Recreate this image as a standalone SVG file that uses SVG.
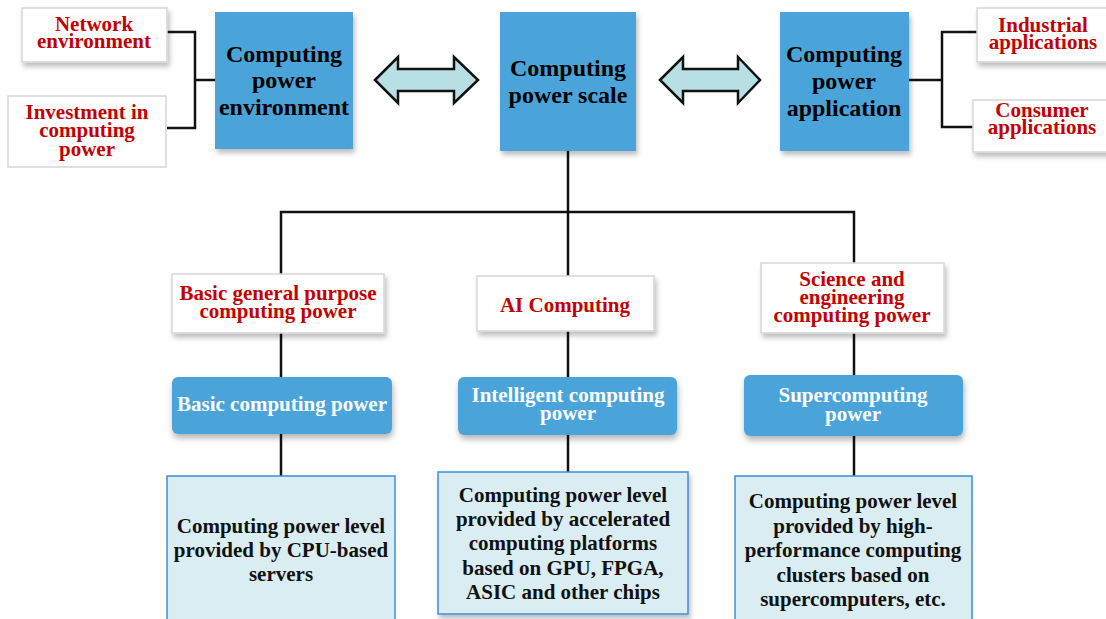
<svg xmlns="http://www.w3.org/2000/svg" width="1106" height="619" viewBox="0 0 1106 619">
<defs>
<filter id="sh" x="-10%" y="-10%" width="125%" height="135%">
<feDropShadow dx="2" dy="4" stdDeviation="2.5" flood-color="#000" flood-opacity="0.25"/>
</filter>
<filter id="shb" x="-10%" y="-10%" width="125%" height="135%">
<feDropShadow dx="1" dy="4" stdDeviation="3" flood-color="#000" flood-opacity="0.3"/>
</filter>
</defs>
<style>
text{font-family:"Liberation Serif","Times New Roman",serif;font-weight:bold;text-anchor:middle}
.red{fill:#c00000;font-size:21px}
.big{fill:#000;font-size:24px}
.wh{fill:#fff;font-size:21px}
.blk{fill:#111;font-size:21px}
.wbox{fill:#fff;stroke:#d6d6d6;stroke-width:1.5}
.bbox{fill:#4ba4d9}
.rbox{fill:#4ba4d9}
.lbox{fill:#daedf3;stroke:#3d8fd6;stroke-width:1.5}
.ln{fill:none;stroke:#111;stroke-width:2.5}
.arr{fill:#b8dfe3;stroke:#111;stroke-width:2.5;stroke-linejoin:miter}
</style>
<rect width="1106" height="619" fill="#fff"/>
<g id="connectors">
<polyline class="ln" points="167,32 195,32 195,128 167,128"/>
<line class="ln" x1="195" y1="80" x2="215" y2="80"/>
<polyline class="ln" points="977,32 942,32 942,127 973,127"/>
<line class="ln" x1="909" y1="80" x2="942" y2="80"/>
<line class="ln" x1="568" y1="151" x2="568" y2="212"/>
<polyline class="ln" points="281,276 281,212 854,212 854,263"/>
<line class="ln" x1="568" y1="212" x2="568" y2="276"/>
<line class="ln" x1="281" y1="333" x2="281" y2="377"/>
<line class="ln" x1="281" y1="434" x2="281" y2="476"/>
<line class="ln" x1="568" y1="331" x2="568" y2="377"/>
<line class="ln" x1="568" y1="435" x2="568" y2="472"/>
<line class="ln" x1="854" y1="333" x2="854" y2="375"/>
<line class="ln" x1="854" y1="436" x2="854" y2="476"/>
<path class="arr" d="M375,80 L398,57 L398,69 L454,69 L454,57 L478,80 L454,103 L454,91 L398,91 L398,103 Z"/>
<path class="arr" d="M660,80 L683,57 L683,69 L738,69 L738,57 L760,80 L738,103 L738,91 L683,91 L683,103 Z"/>
</g>
<g id="network-environment">
<rect class="wbox" x="22" y="8" width="145" height="54" filter="url(#sh)"/>
<text class="red" x="94" y="31">Network</text>
<text class="red" x="94" y="48">environment</text>
</g>
<g id="investment">
<rect class="wbox" x="8" y="96" width="158" height="71"/>
<text class="red" x="87" y="119">Investment in</text>
<text class="red" x="87" y="137">computing</text>
<text class="red" x="87" y="156">power</text>
</g>
<g id="computing-power-environment">
<rect class="bbox" x="215" y="12" width="138" height="137" filter="url(#sh)"/>
<text class="big" x="284" y="62">Computing</text>
<text class="big" x="284" y="88">power</text>
<text class="big" x="284" y="115">environment</text>
</g>
<g id="computing-power-scale">
<rect class="bbox" x="500" y="12" width="136" height="139" filter="url(#sh)"/>
<text class="big" x="568" y="76">Computing</text>
<text class="big" x="568" y="103">power scale</text>
</g>
<g id="computing-power-application">
<rect class="bbox" x="780" y="12" width="129" height="139" filter="url(#sh)"/>
<text class="big" x="844" y="62">Computing</text>
<text class="big" x="844" y="89">power</text>
<text class="big" x="844" y="116">application</text>
</g>
<g id="industrial-applications">
<rect class="wbox" x="977" y="8" width="135" height="54" filter="url(#sh)"/>
<text class="red" x="1043" y="32">Industrial</text>
<text class="red" x="1043" y="49">applications</text>
</g>
<g id="consumer-applications">
<rect class="wbox" x="973" y="100" width="139" height="52" filter="url(#sh)"/>
<text class="red" x="1042" y="117">Consumer</text>
<text class="red" x="1042" y="134">applications</text>
</g>
<g id="basic-general-purpose">
<rect class="wbox" x="172" y="274" width="212" height="59" filter="url(#sh)"/>
<text class="red" x="278" y="300">Basic general purpose</text>
<text class="red" x="278" y="318">computing power</text>
</g>
<g id="ai-computing">
<rect class="wbox" x="477" y="276" width="177" height="55" filter="url(#sh)"/>
<text class="red" x="565" y="312">AI Computing</text>
</g>
<g id="science-engineering">
<rect class="wbox" x="761" y="263" width="183" height="70" filter="url(#sh)"/>
<text class="red" x="852" y="286">Science and</text>
<text class="red" x="852" y="304">engineering</text>
<text class="red" x="852" y="322">computing power</text>
</g>
<g id="basic-computing-power">
<rect class="rbox" x="172" y="377" width="220" height="57" rx="6" filter="url(#shb)"/>
<text class="wh" x="282" y="411">Basic computing power</text>
</g>
<g id="intelligent-computing-power">
<rect class="rbox" x="458" y="377" width="219" height="58" rx="6" filter="url(#shb)"/>
<text class="wh" x="568" y="402">Intelligent computing</text>
<text class="wh" x="568" y="420">power</text>
</g>
<g id="supercomputing-power">
<rect class="rbox" x="744" y="375" width="219" height="61" rx="6" filter="url(#shb)"/>
<text class="wh" x="853" y="402">Supercomputing</text>
<text class="wh" x="853" y="421">power</text>
</g>
<g id="cpu-level">
<rect class="lbox" x="167" y="476" width="228" height="150"/>
<text class="blk" x="281" y="533">Computing power level</text>
<text class="blk" x="281" y="557">provided by CPU-based</text>
<text class="blk" x="281" y="581">servers</text>
</g>
<g id="accelerated-level">
<rect class="lbox" x="438" y="472" width="250" height="142" filter="url(#sh)"/>
<text class="blk" x="563" y="502">Computing power level</text>
<text class="blk" x="563" y="526">provided by accelerated</text>
<text class="blk" x="563" y="550">computing platforms</text>
<text class="blk" x="563" y="575">based on GPU, FPGA,</text>
<text class="blk" x="563" y="599">ASIC and other chips</text>
</g>
<g id="supercomputer-level">
<rect class="lbox" x="735" y="476" width="237" height="150"/>
<text class="blk" x="853" y="508">Computing power level</text>
<text class="blk" x="853" y="533">provided by high-</text>
<text class="blk" x="853" y="557">performance computing</text>
<text class="blk" x="853" y="582">clusters based on</text>
<text class="blk" x="853" y="606">supercomputers, etc.</text>
</g>
</svg>
